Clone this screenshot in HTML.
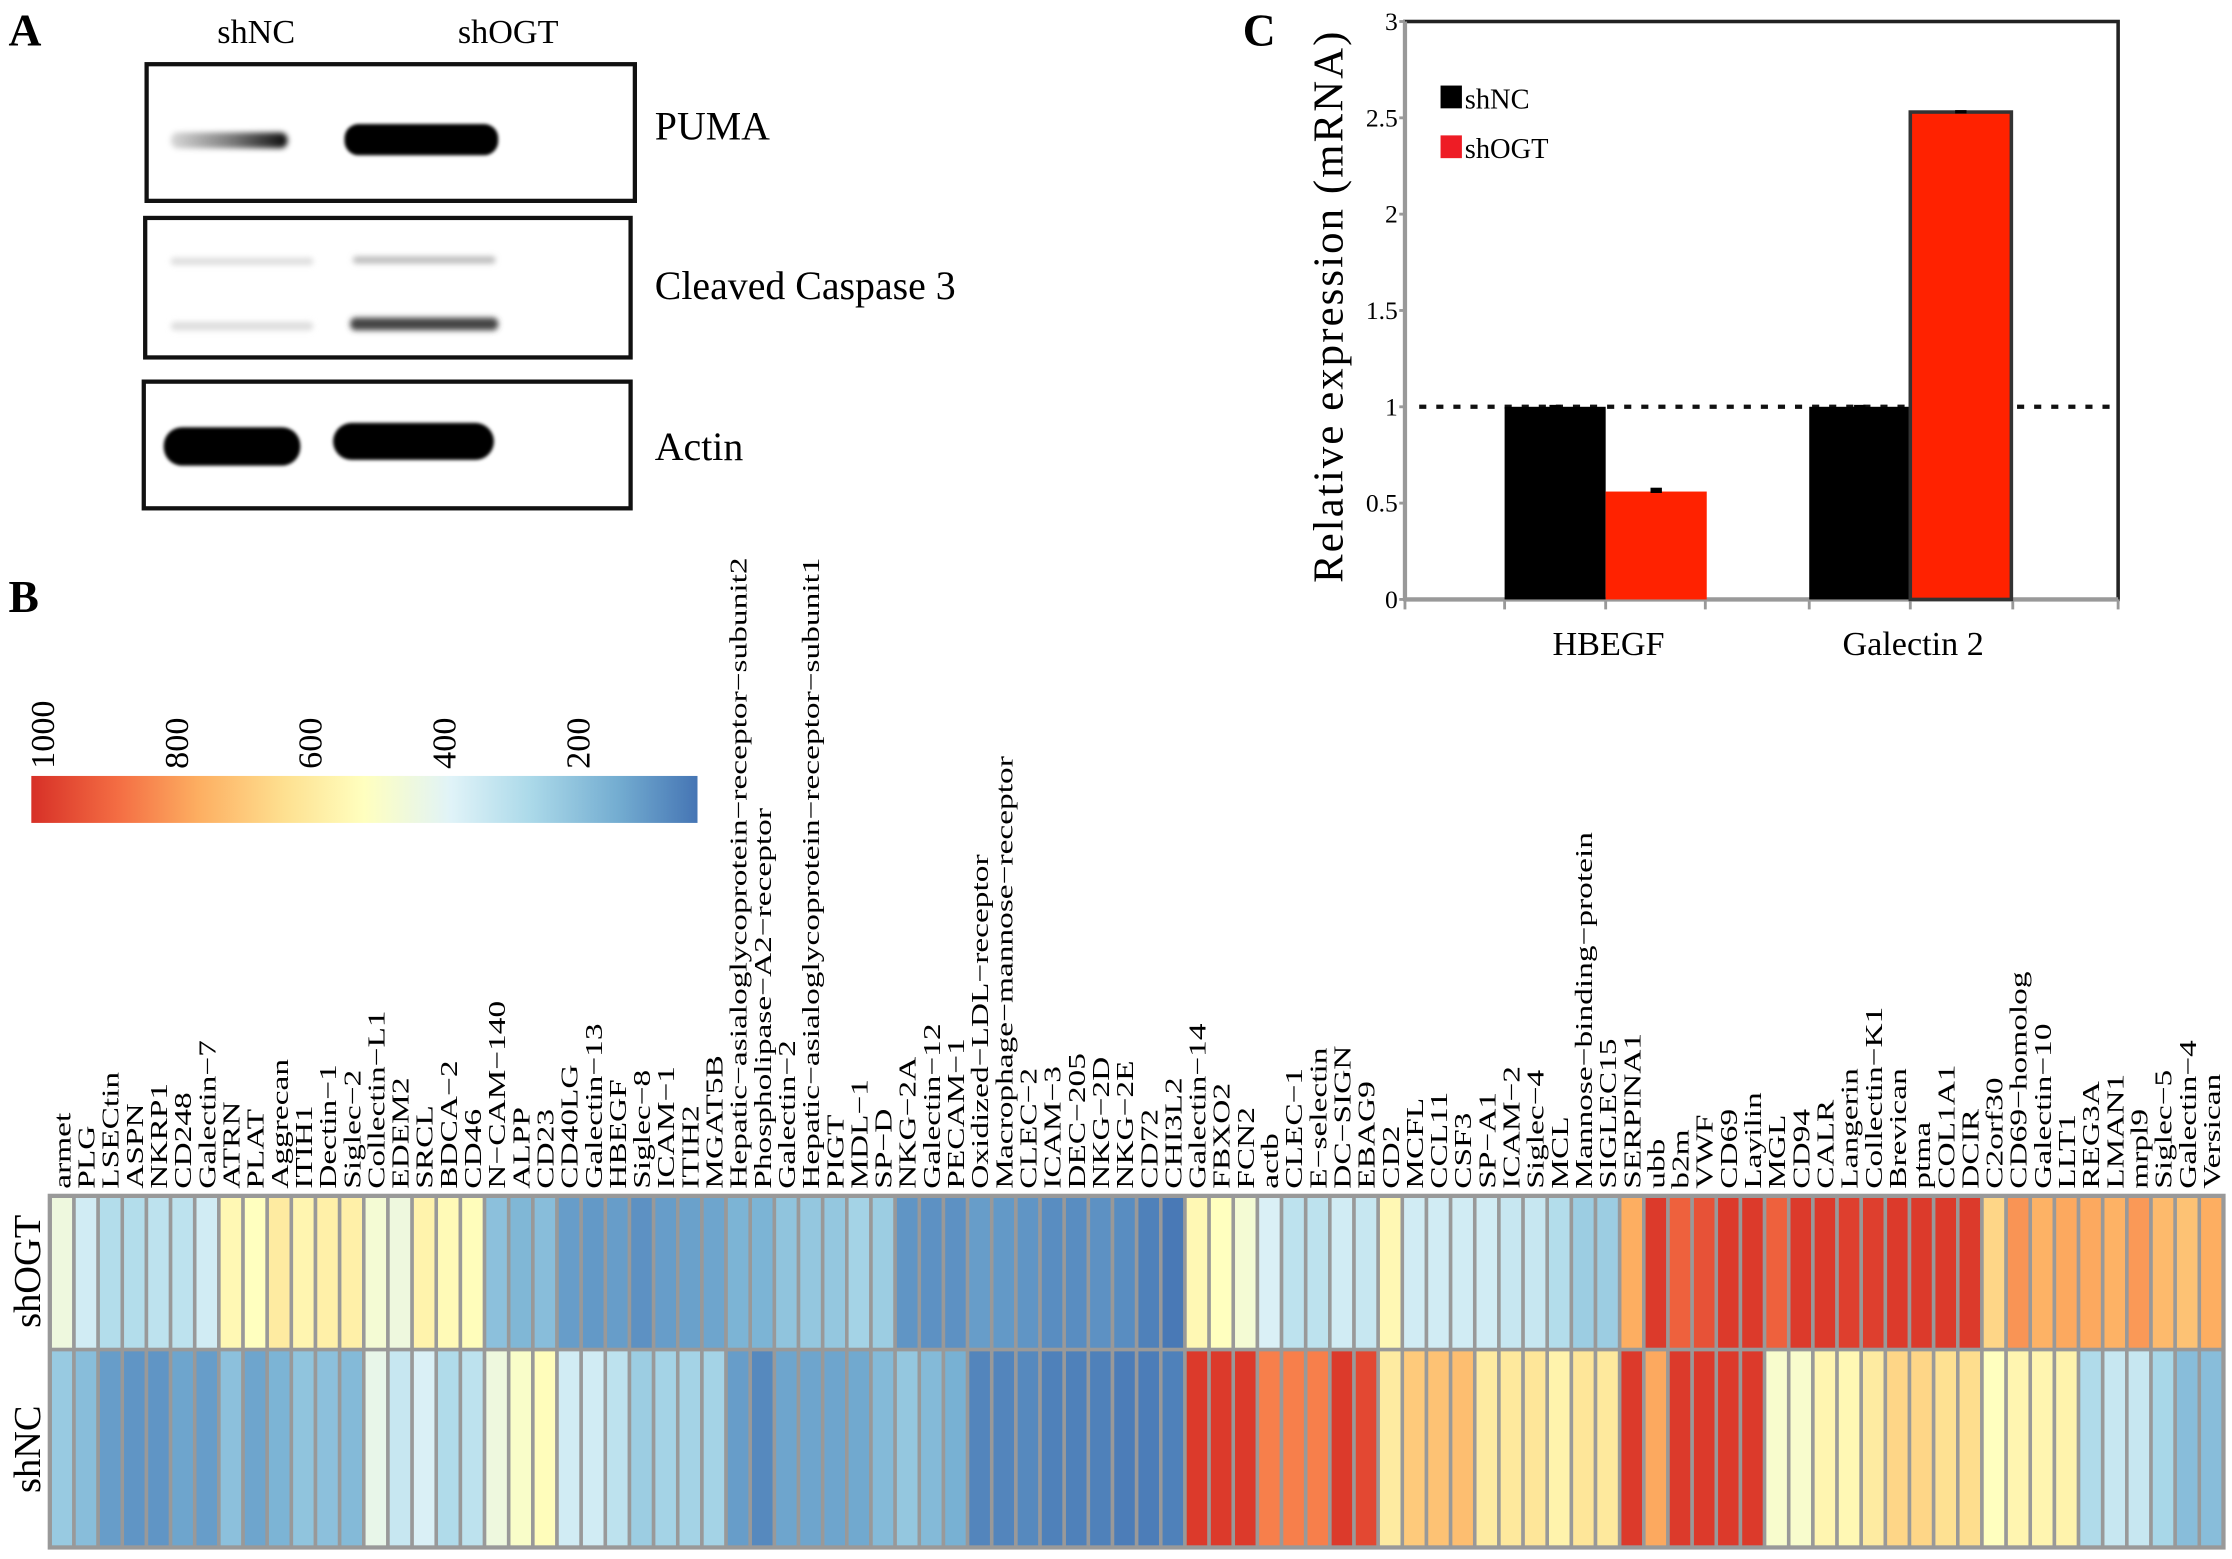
<!DOCTYPE html>
<html><head><meta charset="utf-8"><style>
html,body{margin:0;padding:0;background:#fff}
svg{display:block}
text{font-family:"Liberation Serif",serif;fill:#000}
</style></head><body>
<svg id="fig" width="2232" height="1559" viewBox="0 0 1568 1095" xmlns="http://www.w3.org/2000/svg">
<defs>
<filter id="blur2" x="-20%" y="-100%" width="140%" height="300%"><feGaussianBlur stdDeviation="2"/></filter>
<filter id="blur1" x="-20%" y="-100%" width="140%" height="300%"><feGaussianBlur stdDeviation="1.2"/></filter>
<linearGradient id="cbar" x1="0" x2="1" y1="0" y2="0">
<stop offset="0" stop-color="#d73027"/><stop offset="0.13" stop-color="#f46d43"/><stop offset="0.25" stop-color="#fdae61"/><stop offset="0.38" stop-color="#fee090"/><stop offset="0.5" stop-color="#ffffbf"/><stop offset="0.63" stop-color="#e0f3f8"/><stop offset="0.75" stop-color="#abd9e9"/><stop offset="0.88" stop-color="#74add1"/><stop offset="1" stop-color="#4575b4"/>
</linearGradient>
<linearGradient id="pumaNC" x1="0" x2="1" y1="0" y2="0">
<stop offset="0" stop-color="#000" stop-opacity="0.15"/><stop offset="0.5" stop-color="#000" stop-opacity="0.5"/><stop offset="1" stop-color="#000" stop-opacity="0.95"/>
</linearGradient>
</defs>
<!-- Panel A -->
<g>
<text x="6" y="32" font-size="32" font-weight="bold">A</text>
<text x="180" y="30" font-size="24" text-anchor="middle">shNC</text>
<text x="357" y="30" font-size="24" text-anchor="middle">shOGT</text>
<g>
<rect x="103" y="45" width="343" height="96" fill="#fff" stroke="#111" stroke-width="3"/>
<rect x="120" y="93" width="82" height="11" rx="5" fill="url(#pumaNC)" filter="url(#blur2)"/>
<rect x="242" y="87" width="108" height="22" rx="10" fill="#000" filter="url(#blur1)"/>
</g>
<text x="460" y="98" font-size="28">PUMA</text>
<g>
<rect x="102" y="153" width="341" height="98" fill="#fff" stroke="#111" stroke-width="3"/>
<rect x="120" y="181" width="100" height="5" rx="2" fill="#ddd" filter="url(#blur2)"/>
<rect x="120" y="226" width="100" height="6" rx="3" fill="#ddd" filter="url(#blur2)"/>
<rect x="248" y="180" width="100" height="5" rx="2" fill="#bbb" filter="url(#blur2)"/>
<rect x="246" y="223" width="104" height="9" rx="4" fill="#444" filter="url(#blur2)"/>
</g>
<text x="460" y="210" font-size="28">Cleaved Caspase 3</text>
<g>
<rect x="101" y="268" width="342" height="89" fill="#fff" stroke="#111" stroke-width="3"/>
<rect x="115" y="300" width="96" height="27" rx="13" fill="#000" filter="url(#blur1)"/>
<rect x="234" y="297" width="113" height="26" rx="13" fill="#000" filter="url(#blur1)"/>
</g>
<text x="460" y="323" font-size="28">Actin</text>
</g>
<!-- Panel B -->
<text x="6" y="430" font-size="32" font-weight="bold">B</text>
<g>
<rect x="22" y="545" width="468" height="33" fill="url(#cbar)"/>
<text transform="translate(38,540) rotate(-90)" font-size="24">1000</text>
<text transform="translate(132,540) rotate(-90)" font-size="24">800</text>
<text transform="translate(226,540) rotate(-90)" font-size="24">600</text>
<text transform="translate(320,540) rotate(-90)" font-size="24">400</text>
<text transform="translate(414,540) rotate(-90)" font-size="24">200</text>
</g>
<text transform="translate(28,893) rotate(-90)" font-size="27" text-anchor="middle">shOGT</text>
<text transform="translate(28,1018) rotate(-90)" font-size="27" text-anchor="middle">shNC</text>
<g id="heat"></g>
<g id="hlabels"></g>
<!-- Panel C -->
<text x="873" y="32" font-size="32" font-weight="bold">C</text>
<g id="chartc"></g>
</svg>
<script>
const genes = ["armet","PLG","LSECtin","ASPN","NKRP1","CD248","Galectin\u22127","ATRN","PLAT","Aggrecan","ITIH1","Dectin\u22121","Siglec\u22122","Collectin\u2212L1","EDEM2","SRCL","BDCA\u22122","CD46","N\u2212CAM\u2212140","ALPP","CD23","CD40LG","Galectin\u221213","HBEGF","Siglec\u22128","ICAM\u22121","ITIH2","MGAT5B","Hepatic\u2212asialoglycoprotein\u2212receptor\u2212subunit2","Phospholipase\u2212A2\u2212receptor","Galectin\u22122","Hepatic\u2212asialoglycoprotein\u2212receptor\u2212subunit1","PIGT","MDL\u22121","SP\u2212D","NKG\u22122A","Galectin\u221212","PECAM\u22121","Oxidized\u2212LDL\u2212receptor","Macrophage\u2212mannose\u2212receptor","CLEC\u22122","ICAM\u22123","DEC\u2212205","NKG\u22122D","NKG\u22122E","CD72","CHI3L2","Galectin\u221214","FBXO2","FCN2","actb","CLEC\u22121","E\u2212selectin","DC\u2212SIGN","EBAG9","CD2","MCFL","CCL11","CSF3","SP\u2212A1","ICAM\u22122","Siglec\u22124","MCL","Mannose\u2212binding\u2212protein","SIGLEC15","SERPINA1","ubb","b2m","VWF","CD69","Layilin","MGL","CD94","CALR","Langerin","Collectin\u2212K1","Brevican","ptma","COL1A1","DCIR","C2orf30","CD69\u2212homolog","Galectin\u221210","LLT1","REG3A","LMAN1","mrpl9","Siglec\u22125","Galectin\u22124","Versican"];
const shOGT = [431,339,270,270,293,293,339,530,500,580,540,560,560,454,431,550,520,510,180,153,171,90,81,90,63,90,99,108,144,144,
189,198,198,234,216,72,63,63,90,81,72,54,54,63,54,27,10,530,500,454,362,293,293,339,316,530,339,339,339,339,
316,316,270,216,216,750,980,900,930,980,980,900,980,980,970,970,980,980,980,980,650,800,740,760,760,740,790,720,700,750];
const shNC = [207,171,90,72,72,108,90,180,108,144,189,180,162,408,316,362,261,293,431,477,510,339,339,293,216,234,234,234,90,45,
108,108,108,117,162,198,162,135,36,36,45,27,27,27,18,18,27,980,980,980,840,840,840,980,950,580,680,700,710,580,
590,600,550,600,590,980,760,980,980,980,980,470,470,540,530,580,650,650,620,630,500,540,540,550,261,316,316,243,171,171];
const rows = ["shOGT","shNC"];
const barCats = ["HBEGF","Galectin 2"];
const barNC = [1.0, 1.0];
const barOGT = [0.56, 2.53];
const errNC = [0.01, 0.01];
const errOGT = [0.02, 0.01];
const yTicks = [0,0.5,1,1.5,2,2.5,3];
const yTickLabels = ["0","0.5","1","1.5","2","2.5","3"];

const NS="http://www.w3.org/2000/svg";
function mk(tag,attrs,parent){const e=document.createElementNS(NS,tag);for(const k in attrs)e.setAttribute(k,attrs[k]);parent.appendChild(e);return e;}
const stops=[[69,117,180],[116,173,209],[171,217,233],[224,243,248],[255,255,191],[254,224,144],[253,174,97],[244,109,67],[215,48,39]];
function cmap(v){let t=Math.max(0,Math.min(1,v/1000))*(stops.length-1);const i=Math.min(stops.length-2,Math.floor(t));const f=t-i;
const c=stops[i].map((a,j)=>Math.round(a+(stops[i+1][j]-a)*f));return `rgb(${c[0]},${c[1]},${c[2]})`;}

// heatmap
const hx0=35,hx1=1562,hy=[840,948,1087];
const cw=(hx1-hx0)/genes.length;
const colX=i=>hx0+i*cw;
const heat=document.getElementById('heat');
const series=[shOGT,shNC];
series.forEach((arr,r)=>{
  arr.forEach((v,i)=>{
    const el=mk('rect',{x:colX(i),y:hy[r],width:cw,height:hy[r+1]-hy[r],fill:cmap(v),stroke:'#999',"stroke-width":2.5},heat);
    
    
  });
});
const border=mk('rect',{x:hx0,y:hy[0],width:hx1-hx0,height:hy[2]-hy[0],fill:'none',stroke:'#999','stroke-width':3},heat);


const hl=document.getElementById('hlabels');
genes.forEach((g,i)=>{
  const cx=colX(i)+cw/2+6;
  const t=mk('text',{transform:`translate(${cx},835) rotate(-90) scale(1.38,1)`,'font-size':17},hl);
  t.textContent=g;
  
  
});

// bar chart
const C=document.getElementById('chartc');
const ax={l:987,r:1488,t:15,b:421};
const yS=v=>ax.b-(v/3)*(ax.b-ax.t);
const groupCenter=[1128,1342];
const bw=71;
mk('rect',{x:ax.l,y:ax.t,width:ax.r-ax.l,height:ax.b-ax.t,fill:'none',stroke:'#222','stroke-width':2.5},C);
const xl=mk('line',{x1:ax.l,x2:ax.r,y1:ax.b,y2:ax.b,stroke:'#999','stroke-width':3},C);


const yl=mk('line',{x1:ax.l,x2:ax.l,y1:ax.t,y2:ax.b,stroke:'#999','stroke-width':3},C);


yTicks.forEach((v,i)=>{
  const y=yS(v);
  mk('line',{x1:ax.l-4,x2:ax.l,y1:y,y2:y,stroke:'#999','stroke-width':2},C);
  const t=mk('text',{x:ax.l-5,y:y+6,'font-size':18,'text-anchor':'end'},C);
  t.textContent=yTickLabels[i];
  
  
});
[ax.l,1057,1128,1198,1271,1342,1414,ax.r].forEach(x=>mk('line',{x1:x,x2:x,y1:ax.b,y2:ax.b+7,stroke:'#999','stroke-width':2},C));
const ref=mk('line',{x1:ax.l+10,x2:ax.r-2,y1:yS(1),y2:yS(1),stroke:'#111','stroke-width':3,'stroke-dasharray':'5,7'},C);


barCats.forEach((c,i)=>{
  const gc=groupCenter[i];
  const b1=mk('rect',{x:gc-bw,y:yS(barNC[i]),width:bw,height:ax.b-yS(barNC[i]),fill:'#000'},C);
  
  
  const b2=mk('rect',{x:gc,y:yS(barOGT[i]),width:bw,height:ax.b-yS(barOGT[i]),fill:'#ff2200',stroke:'#333','stroke-width':i==1?2.5:0},C);
  
  
  mk('rect',{x:gc-bw/2-4,y:yS(barNC[i]+errNC[i]),width:8,height:yS(barNC[i])-yS(barNC[i]+errNC[i])+1,fill:'#000'},C);
  mk('rect',{x:gc+bw/2-4,y:yS(barOGT[i]+errOGT[i]),width:8,height:yS(barOGT[i])-yS(barOGT[i]+errOGT[i])+1,fill:'#000'},C);
  const t=mk('text',{x:gc+2,y:460,'font-size':24,'text-anchor':'middle'},C);
  t.textContent=c;
  
  
});
const lg1=mk('rect',{x:1012,y:60,width:15,height:16,fill:'#000'},C);


const lt1=mk('text',{x:1029,y:76,'font-size':20},C);lt1.textContent='shNC';


const lg2=mk('rect',{x:1012,y:95,width:15,height:16,fill:'#ee1c25'},C);


const lt2=mk('text',{x:1029,y:111,'font-size':20},C);lt2.textContent='shOGT';


const yt=mk('text',{transform:'translate(943,215) rotate(-90)','font-size':30,'text-anchor':'middle','letter-spacing':'1.5'},C);
yt.textContent='Relative expression (mRNA)';


</script>
</body></html>
